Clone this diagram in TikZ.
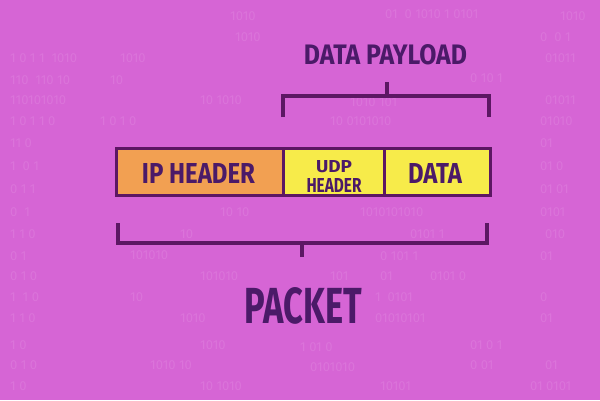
\documentclass[tikz,border=0pt]{standalone}
\usepackage{fontspec}
\usepackage{graphicx}
\usepackage{pdfrender}
\newfontfamily\heavy{Fira Sans}
\newfontfamily\thinf{Fira Sans}
\definecolor{bgc}{HTML}{D665D5}
\definecolor{digc}{HTML}{DB74DA}
\definecolor{linec}{HTML}{5C1763}
\definecolor{txtc}{HTML}{4B1A68}
\definecolor{orangec}{HTML}{F2A052}
\definecolor{yellowc}{HTML}{F7EB4A}
\newcommand\fitt[3]{\resizebox{#1pt}{#2pt}{\textpdfrender{TextRenderingMode=FillStroke,LineWidth=1.25pt,StrokeColor=txtc,LineJoin=1}{\heavy\bfseries #3}}}
\tikzset{
  cell/.style={draw=linec, line width=3pt, rectangle, minimum height=47pt, inner sep=0pt},
  txt/.style={text=txtc, inner sep=0pt, anchor=center},
  brace/.style={draw=linec, line width=3.5pt},
  digits/.style={text=digc, inner sep=0pt, anchor=west, font=\thinf\fontsize{13}{13}\selectfont}
}
\begin{document}
\begin{tikzpicture}[x=1pt,y=-1pt]
\fill[bgc] (0,0) rectangle (600,400);
\useasboundingbox (0,0) rectangle (600,400);
% faint binary background
\foreach \x/\y/\s in {
  230/16/1010, 385/14/01\ \ 0\ 1010\ 1\ 0101, 560/16/1010,
  235/37/1010, 540/37/0\ \ 0\ 1,
  10/58/1\ 0\ 1\ 1\ \ 1010, 120/58/1010, 545/58/01011,
  10/80/110\ \ 110\ 10, 110/80/10, 470/78/0\ 10\ 1,
  10/100/110101010, 200/100/10\ 1010, 350/102/1010\ 101, 545/100/01011,
  10/121/1\ 0\ 1\ 1\ 0, 100/121/1\ 0\ 1\ 0, 330/121/10\ 0101010, 540/121/01010,
  10/143/11\ 0, 540/143/01,
  10/166/1\ \ 0\ 1, 540/166/01\ 0,
  10/189/0\ 1\ 1, 540/189/01\ 01,
  10/212/0\ \ 1, 220/212/10\ 10, 360/212/1010101010, 540/212/0101,
  10/234/1\ 1\ 0, 180/234/10, 410/234/0101\ 1, 545/234/010,
  10/256/0\ 1, 130/255/101010, 380/256/0\ 101\ 1, 540/256/01,
  10/276/0\ 1\ 0, 200/276/101010, 330/276/101, 380/276/01, 430/276/0101\ 0,
  10/297/1\ \ 1\ 0, 130/297/10, 375/297/1\ \ 0101, 540/297/0,
  10/318/1\ 1\ 0, 180/318/1010, 375/318/01010101, 540/318/01,
  10/345/1\ 0, 200/345/1010, 300/347/1\ 01\ 0, 470/345/01\ 0\ 1,
  10/365/0\ 1\ 0, 150/365/1010\ 10, 310/367/0101010, 470/365/0\ 01, 545/365/01,
  10/386/1\ 0, 200/386/10\ 1010, 380/386/10101, 530/386/01\ 0101}
  \node[digits] at (\x,\y) {\s};
% packet cells
\node[cell, fill=orangec, minimum width=167pt] (ipc) at (199.5,171.5) {};
\node[cell, fill=yellowc, minimum width=101pt] (udpc) at (333.5,171.5) {};
\node[cell, fill=yellowc, minimum width=106pt] (datac) at (437,171.5) {};
% cell texts
\node[txt] (iptext) at (198.5,173.5) {\fitt{113}{20}{IP HEADER}};
\node[txt] (udptext) at (334,166.5) {\fitt{36}{12}{UDP}};
\node[txt] (hdrtext) at (334,185.5) {\fitt{55}{14}{HEADER}};
\node[txt] (datatext) at (435,173.5) {\fitt{54}{20}{DATA}};
% titles
\node[txt] (payload) at (385.5,54.5) {\fitt{163}{20}{DATA PAYLOAD}};
\node[txt] (packet) at (303.5,306) {\fitt{117}{36}{PACKET}};
% upper bracket (data payload)
\coordinate (ul) at (283,117);
\coordinate (ur) at (489,117);
\coordinate (utick) at (387,82);
\draw[brace] (ul) -- (ul |- 0,96) -- (ur |- 0,96) -- (ur);
\draw[brace] (utick) -- (utick |- 0,96);
% lower bracket (packet)
\coordinate (ll) at (118,223);
\coordinate (lr) at (487,223);
\coordinate (ltick) at (302,257);
\draw[brace] (ll) -- (ll |- 0,243) -- (lr |- 0,243) -- (lr);
\draw[brace] (ltick) -- (ltick |- 0,243);
\end{tikzpicture}
\end{document}
